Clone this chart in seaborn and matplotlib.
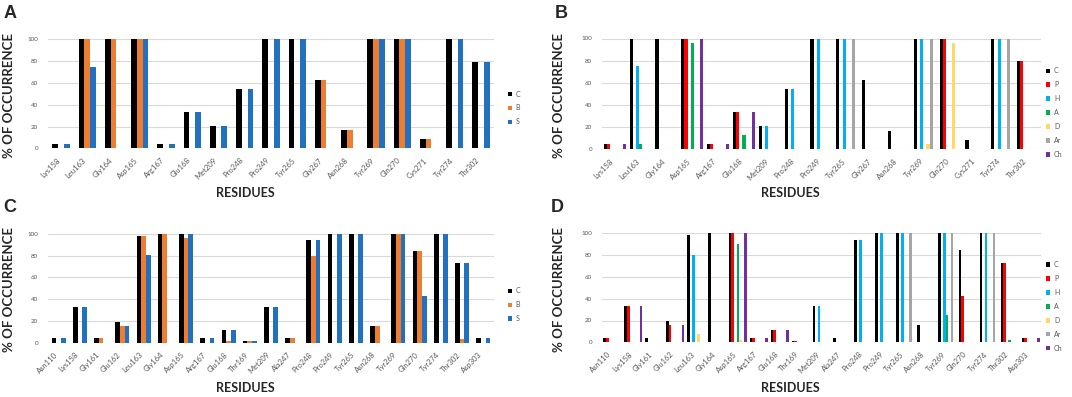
import pandas as pd
import matplotlib
matplotlib.use("Agg")
import matplotlib.pyplot as plt
import seaborn as sns

# residues of each panel
res_ab = ["Lys158", "Leu163", "Gly164", "Asp165", "Arg167", "Glu168", "Met209",
          "Pro248", "Pro249", "Tyr265", "Gly267", "Asn268", "Tyr269", "Gln270",
          "Cys271", "Tyr274", "Thr302"]
res_cd = ["Asn110", "Lys158", "Gly161", "Glu162", "Leu163", "Gly164", "Asp165",
          "Arg167", "Glu168", "Thr169", "Met209", "Ala247", "Pro248", "Pro249",
          "Tyr265", "Asn268", "Tyr269", "Gln270", "Tyr274", "Thr302", "Asp303"]

# panel A (C / B / S)
a_c = [4.2, 100, 100, 100, 4.2, 33.3, 20.8, 54.2, 100, 100, 62.5, 16.7, 100, 100, 8.3, 100, 79.2]
a_b = [0, 100, 100, 100, 0, 0, 0, 0, 0, 0, 62.5, 16.7, 100, 100, 8.3, 0, 0]
a_s = [4.2, 75, 0, 100, 4.2, 33.3, 20.8, 54.2, 100, 100, 0, 0, 100, 100, 0, 100, 79.2]

# panel B (C / P / H / A / D / Ar / Ch)
b_c = [4.2, 100, 100, 100, 4.2, 33.3, 20.8, 54.2, 100, 100, 62.5, 16.7, 100, 100, 8.3, 100, 79.2]
b_p = [4.2, 0, 0, 100, 4.2, 33.3, 0, 0, 0, 0, 0, 0, 0, 100, 0, 0, 79.2]
b_h = [0, 75, 0, 0, 0, 0, 20.8, 54.2, 100, 100, 0, 0, 100, 0, 0, 100, 0]
b_a = [0, 4.2, 0, 95.8, 0, 12.5, 0, 0, 0, 0, 0, 0, 0, 0, 0, 0, 0]
b_d = [0, 0, 0, 0, 0, 0, 0, 0, 0, 0, 0, 0, 4.2, 95.8, 0, 0, 0]
b_ar = [0, 0, 0, 0, 0, 0, 0, 0, 0, 100, 0, 0, 100, 0, 0, 100, 0]
b_ch = [4.2, 0, 0, 100, 4.2, 33.3, 0, 0, 0, 0, 0, 0, 0, 0, 0, 0, 0]

# panel C (C / B / S)
c_c = [4, 33.3, 4, 19.5, 98.5, 100, 100, 4, 11.7, 1.6, 33.3, 4, 94.5, 100, 100, 15.6, 100, 84.6, 100, 73, 4]
c_b = [0, 0, 4, 15.6, 98.5, 100, 96.2, 0, 1.6, 1.6, 0, 4, 80, 0, 0, 15.6, 100, 84.6, 0, 3.8, 0]
c_s = [4, 33.3, 0, 15.6, 80.7, 0, 100, 4, 11.7, 1.6, 33.3, 0, 94.5, 100, 100, 0, 100, 43, 100, 73, 4]

# panel D (C / P / H / A / D / Ar / Ch)
d_c = [4, 33.3, 4, 19.5, 98, 100, 100, 4, 11.7, 1.6, 33.3, 4, 94, 100, 100, 15.6, 100, 84.6, 100, 72.5, 4]
d_p = [4, 33.3, 0, 15.6, 0, 0, 100, 4, 11.7, 1.6, 0, 0, 0, 0, 0, 0, 0, 42.5, 0, 72.5, 4]
d_h = [0, 0, 0, 0, 80, 0, 0, 0, 0, 0, 33.3, 0, 94, 100, 100, 0, 100, 0, 100, 0, 0]
d_a = [0, 0, 0, 0, 0, 0, 90, 0, 0, 0, 0, 0, 0, 0, 0, 0, 25.5, 0, 0, 2, 0]
d_d = [0, 0, 0, 0, 8, 0, 2, 0, 0, 0, 0, 0, 0, 0, 0, 0, 0, 0, 0, 0, 0]
d_ar = [0, 0, 0, 0, 0, 0, 0, 0, 0, 0, 0, 0, 0, 0, 100, 0, 100, 0, 100, 0, 0]
d_ch = [0, 33.3, 0, 15.6, 0, 0, 100, 4, 11.7, 0, 0, 0, 0, 0, 0, 0, 0, 0, 0, 0, 4]

tipos_3 = ["C", "B", "S"]
cores_3 = ["#000000", "#ED7D31", "#2271C1"]
tipos_7 = ["C", "P", "H", "A", "D", "Ar", "Ch"]
cores_7 = ["#000000", "#FF0000", "#00B0F0", "#00B050", "#FFD966", "#A5A5A5", "#7030A0"]

sns.set_style("white")
plt.rcParams["font.family"] = ["Lato", "DejaVu Sans"]

W, H = 1072, 397
fig = plt.figure(figsize=(W / 100, H / 100), dpi=100)


def eixo(x0, y0, x1, y1):
    # rect from pixel coords (top-left origin)
    return fig.add_axes([x0 / W, 1 - y1 / H, (x1 - x0) / W, (y1 - y0) / H])


def painel(ax, residuos, series, tipos, cores, largura, leg_x, leg_y):
    df = pd.DataFrame({"Residue": residuos})
    for t, v in zip(tipos, series):
        df[t] = v
    df = df.melt(id_vars="Residue", var_name="Type", value_name="Pct")
    sns.barplot(data=df, x="Residue", y="Pct", hue="Type", order=residuos,
                hue_order=tipos, palette=cores, width=largura, linewidth=0,
                errorbar=None, saturation=1, ax=ax)
    ax.set_xlim(-0.5, len(residuos) - 0.5)
    ax.set_ylim(0, 100)
    ax.set_yticks(range(0, 101, 20))
    ax.set_xlabel("")
    ax.set_ylabel("")
    ax.yaxis.grid(True, color="#D9D9D9", linewidth=0.8)
    ax.set_axisbelow(True)
    for s in ax.spines.values():
        s.set_visible(False)
    ax.tick_params(axis="y", length=0, pad=7, labelsize=4.5, labelcolor="#595959")
    ax.tick_params(axis="x", length=0, pad=6, labelsize=5.5, labelcolor="#595959")
    plt.setp(ax.get_xticklabels(), rotation=45, ha="right", va="top")
    leg = ax.get_legend()
    handles = leg.legend_handles
    labels = [t.get_text() for t in leg.get_texts()]
    ax.legend(handles, labels, loc="center left", bbox_to_anchor=(leg_x, leg_y),
              frameon=False, fontsize=5, handlelength=0.6, handleheight=0.6,
              handletextpad=0.5, labelspacing=1.0, borderpad=0, borderaxespad=0,
              labelcolor="#595959")


ax_a = eixo(48, 39.3, 494, 148.3)
painel(ax_a, res_ab, [a_c, a_b, a_s], tipos_3, cores_3, 0.66, 1.031, 0.37)

ax_b = eixo(602, 38.5, 1041, 149)
painel(ax_b, res_ab, [b_c, b_p, b_h, b_a, b_d, b_ar, b_ch], tipos_7, cores_7, 0.86, 1.012, 0.33)

ax_c = eixo(48, 234, 494, 342.7)
painel(ax_c, res_cd, [c_c, c_b, c_s], tipos_3, cores_3, 0.66, 1.031, 0.35)

ax_d = eixo(602, 233.3, 1041, 342.3)
painel(ax_d, res_cd, [d_c, d_p, d_h, d_a, d_d, d_ar, d_ch], tipos_7, cores_7, 0.86, 1.012, 0.33)

# letras dos paineis e rotulos dos eixos
for letra, x, y in [("A", 4, 13), ("B", 555, 13), ("C", 3, 207), ("D", 551, 207)]:
    fig.text(x / W, 1 - y / H, letra, fontsize=13, fontweight="bold",
             family="Liberation Sans", ha="left", va="center")

for x, y in [(9.5, 95), (559, 95), (9.5, 290), (559, 290)]:
    fig.text(x / W, 1 - y / H, "% OF OCCURRENCE", rotation=90, fontsize=9.5,
             fontweight="bold", ha="center", va="center")

for x, y in [(245, 193), (790, 193), (245, 388), (790, 388)]:
    fig.text(x / W, 1 - y / H, "RESIDUES", fontsize=9, fontweight="bold",
             ha="center", va="center")

fig.savefig("out.png", dpi=100)
